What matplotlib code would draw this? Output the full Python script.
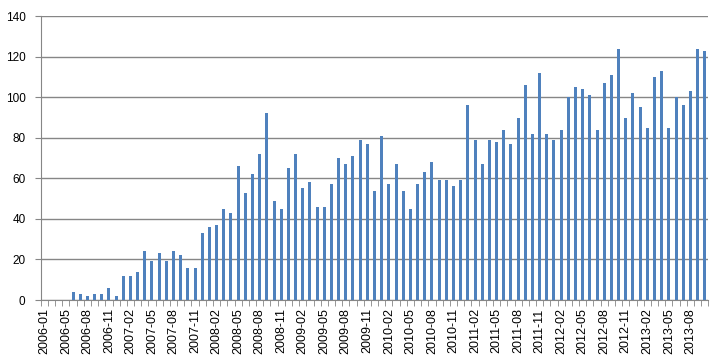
import numpy as np
import matplotlib.pyplot as plt

# month labels (two early months missing in the source, so 2006 starts uneven)
months = ["2006-01", "2006-03", "2006-04"]
for y in range(2006, 2014):
    for m in range(1, 13):
        if (y == 2006 and m < 5) or (y == 2013 and m > 10):
            continue
        months.append("%d-%02d" % (y, m))

counts_2006 = [0, 0, 0, 0, 4, 3, 2, 3, 3, 6, 2]
counts_2007 = [12, 12, 14, 24, 19, 23, 19, 24, 22, 16, 16, 33]
counts_2008 = [36, 37, 45, 43, 66, 53, 62, 72, 92, 49, 45, 65]
counts_2009 = [72, 55, 58, 46, 46, 57, 70, 67, 71, 79, 77, 54]
counts_2010 = [81, 57, 67, 54, 45, 57, 63, 68, 59, 59, 56, 59]
counts_2011 = [96, 79, 67, 79, 78, 84, 77, 90, 106, 82, 112, 82]
counts_2012 = [79, 84, 100, 105, 104, 101, 84, 107, 111, 124, 90, 102]
counts_2013 = [95, 85, 110, 113, 85, 100, 96, 103, 124, 123]

counts = (counts_2006 + counts_2007 + counts_2008 + counts_2009
          + counts_2010 + counts_2011 + counts_2012 + counts_2013)

plt.rcParams['font.family'] = ['Liberation Sans', 'DejaVu Sans']

fig = plt.figure(figsize=(7.17, 3.59), dpi=100)
ax = fig.add_axes([0.0568, 0.1643, 0.9311, 0.7907])

x = np.arange(len(counts))
ax.bar(x, counts, width=0.42, color='#4F81BD', zorder=3)

ax.set_xlim(-0.5, len(counts) - 0.5)
ax.set_ylim(0, 140)
ax.set_yticks(range(0, 141, 20))
ax.yaxis.grid(True, color='#868686', linewidth=1)
ax.set_axisbelow(True)

ax.set_xticks(x[::3])
ax.set_xticklabels(months[::3], rotation=90, fontsize=9)
ax.set_xticks(np.arange(-0.5, len(counts), 1), minor=True)
ax.tick_params(axis='x', which='major', length=0, pad=6)
ax.tick_params(axis='x', which='minor', length=4, color='#868686')
ax.tick_params(axis='y', length=4, color='#868686', labelsize=8.5, pad=7)

for s in ['top', 'right']:
    ax.spines[s].set_visible(False)
for s in ['left', 'bottom']:
    ax.spines[s].set_color('#868686')

fig.savefig('out.png', dpi=100)
